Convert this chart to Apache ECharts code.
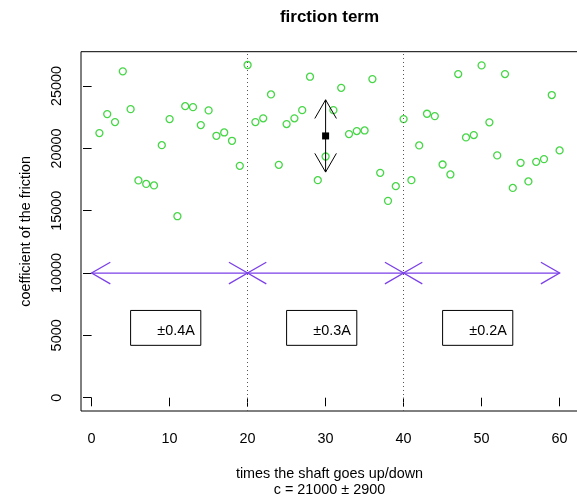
<!DOCTYPE html>
<html>
<head>
<meta charset="utf-8">
<script src="https://cdn.jsdelivr.net/npm/echarts@6/dist/echarts.min.js"></script>
<style>html,body{margin:0;padding:0;background:#fff}#c{width:577px;height:498px}</style>
</head>
<body>
<div id="c"></div>
<script>
// ---- data ----
const trialIndex = [1,2,3,4,5,6,7,8,9,10,11,12,13,14,15,16,17,18,19,20,21,22,23,24,25,26,27,28,29,30,31,32,33,34,35,36,37,38,39,40,41,42,43,44,45,46,47,48,49,50,51,52,53,54,55,56,57,58,59,60];
const frictionCoef = [21230,22750,22110,26180,23150,17430,17150,17030,20260,22350,
                      14560,23390,23310,21870,23050,21010,21280,20610,18600,26690,
                      22110,22410,24330,18680,21950,22410,23070,25750,17450,19350,
                      23070,24860,21150,21390,21440,25560,18040,15790,16970,22350,
                      17450,20240,22780,22590,18710,17910,25960,20880,21070,26660,
                      22090,19440,25960,16830,18840,17350,18920,19140,24280,19840];
const xTicks = [0,10,20,30,40,50,60];
const yTicks = [0,5000,10000,15000,20000,25000];
const sectionBreaks = [20,40];
const sectionSpans = [[0,20],[20,40],[40,60]];
const sectionLevel = 10000;
const currentLabels = ['\u00b10.4A','\u00b10.3A','\u00b10.2A'];
const labelBoxLeft = [5,25,45];
const labelBoxTop = 7000;
const labelBoxBottom = 4200;
const labelBoxWidth = 9;
const meanC = 21000;
const sdC = 2900;
const meanX = 30;

// ---- layout ----
const FONT = 'Liberation Sans, Arial, Helvetica, sans-serif';
const FS = 14.4;
const gridLeft = 81, gridTop = 51.7, gridW = 497, gridH = 359.3;
const xr = [Math.min(...trialIndex), Math.max(...trialIndex)];
const yr = [0, Math.max(...frictionCoef)];
const xMin = xr[0] - 0.04*(xr[1]-xr[0]), xMax = xr[1] + 0.04*(xr[1]-xr[0]);
const yMin = yr[0] - 0.04*(yr[1]-yr[0]), yMax = yr[1] + 0.04*(yr[1]-yr[0]);

function head(tip, from, len, ang) {
  const dx = tip[0]-from[0], dy = tip[1]-from[1];
  const L = Math.sqrt(dx*dx+dy*dy); const ux = dx/L, uy = dy/L;
  const a = ang*Math.PI/180;
  const r1 = [ux*Math.cos(a)-uy*Math.sin(a), ux*Math.sin(a)+uy*Math.cos(a)];
  const r2 = [ux*Math.cos(-a)-uy*Math.sin(-a), ux*Math.sin(-a)+uy*Math.cos(-a)];
  return [[tip[0]-len*r1[0], tip[1]-len*r1[1]], tip, [tip[0]-len*r2[0], tip[1]-len*r2[1]]];
}
function dblArrow(a, b, color, lw) {
  return [
    {type:'line', shape:{x1:a[0],y1:a[1],x2:b[0],y2:b[1]}, style:{stroke:color, lineWidth:lw}},
    {type:'polyline', shape:{points:head(a,b,21.6,30)}, style:{stroke:color, lineWidth:lw, fill:null}},
    {type:'polyline', shape:{points:head(b,a,21.6,30)}, style:{stroke:color, lineWidth:lw, fill:null}}
  ];
}

const chart = echarts.init(document.getElementById('c'), null, {renderer:'canvas'});
chart.setOption({
  animation:false,
  backgroundColor:'#fff',
  textStyle:{fontFamily:FONT},
  graphic:[{type:'text', x:gridLeft+gridW/2, y:17.5, style:{text:'firction term', font:'bold 17px '+FONT, fill:'#000', textAlign:'center', textVerticalAlign:'middle'}}],
  grid:{left:gridLeft, top:gridTop, width:gridW, height:gridH, show:true, borderColor:'#000', borderWidth:1, backgroundColor:'transparent', containLabel:false, outerBoundsMode:'none'},
  xAxis:{type:'value', min:xMin, max:xMax,
    axisLine:{show:false}, splitLine:{show:false},
    axisTick:{show:true, customValues:xTicks, length:8.6, lineStyle:{color:'#000'}},
    axisLabel:{customValues:xTicks, margin:21, color:'#000', fontSize:FS, fontFamily:FONT, formatter:v=>String(v)},
    name:'times the shaft goes up/down\nc = '+meanC+' \u00b1 '+sdC, nameLocation:'middle', nameGap:54.5,
    nameTextStyle:{color:'#000', fontSize:FS, fontFamily:FONT, lineHeight:16.6, verticalAlign:'top'}},
  yAxis:{type:'value', min:yMin, max:yMax,
    axisLine:{show:false}, splitLine:{show:false},
    axisTick:{show:true, customValues:yTicks, length:8.6, lineStyle:{color:'#000'}},
    axisLabel:{customValues:yTicks, margin:17, rotate:90, color:'#000', fontSize:FS, fontFamily:FONT, formatter:v=>String(v)},
    name:'coefficient of the friction', nameLocation:'middle', nameGap:48, nameRotate:90,
    nameTextStyle:{color:'#000', fontSize:FS, fontFamily:FONT}},
  series:[
    {type:'scatter', data:trialIndex.map((x,i)=>[x, frictionCoef[i]]), symbol:'circle', symbolSize:7,
     itemStyle:{color:'rgba(0,0,0,0)', borderColor:'#18cc18', borderWidth:1.3}, z:3,
     markLine:{silent:true, symbol:'none', label:{show:false},
       lineStyle:{color:'#555', type:[1,3], width:1},
       data:sectionBreaks.map(v=>({xAxis:v}))}},
    {type:'custom', data:sectionSpans.map(s=>[s[0], s[1], sectionLevel]), z:4,
     renderItem:(p, api)=>{
       const a = api.coord([api.value(0), api.value(2)]), b = api.coord([api.value(1), api.value(2)]);
       return {type:'group', children:dblArrow(a, b, '#7b3fe8', 1.3)};
     }},
    {type:'custom', data:[[meanX, meanC, sdC]], z:5,
     renderItem:(p, api)=>{
       const x = api.value(0), m = api.value(1), s = api.value(2);
       const lo = api.coord([x, m-s]), hi = api.coord([x, m+s]), c = api.coord([x, m]);
       const ch = dblArrow(lo, hi, '#000', 1);
       ch.push({type:'rect', shape:{x:c[0]-3.5, y:c[1]-3.5, width:7, height:7}, style:{fill:'#000'}});
       return {type:'group', children:ch};
     }},
    {type:'custom', data:labelBoxLeft.map(x=>[x, labelBoxTop, labelBoxBottom]), z:5,
     renderItem:(p, api)=>{
       const tl = api.coord([api.value(0), api.value(1)]);
       const br = api.coord([api.value(0)+labelBoxWidth, api.value(2)]);
       return {type:'group', children:[
         {type:'rect', shape:{x:tl[0], y:tl[1], width:br[0]-tl[0], height:br[1]-tl[1]}, style:{fill:'#fff', stroke:'#000', lineWidth:1}},
         {type:'text', x:br[0]-6, y:(tl[1]+br[1])/2+3.5, style:{text:currentLabels[p.dataIndex], font:FS+'px '+FONT, fill:'#000', textAlign:'right', textVerticalAlign:'middle'}}
       ]};
     }}
  ]
});
</script>
</body>
</html>
